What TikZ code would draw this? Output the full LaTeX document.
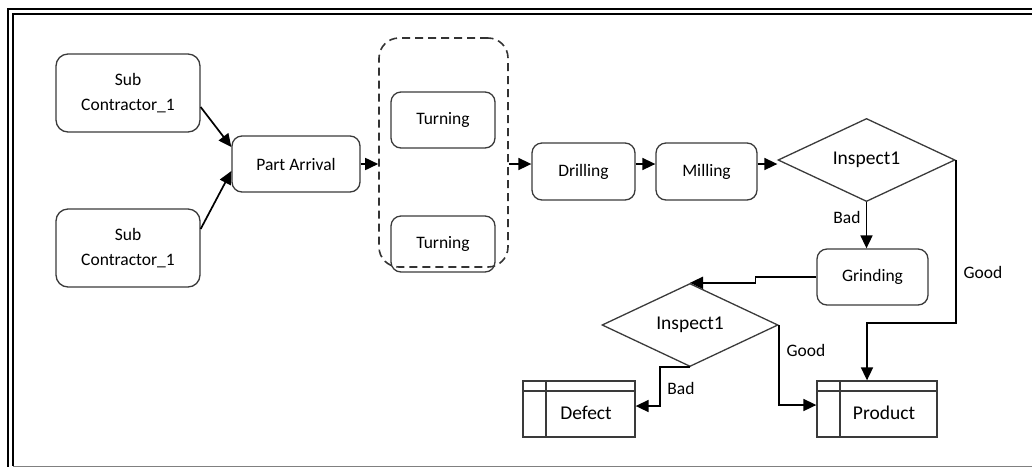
\documentclass[tikz,border=0pt]{standalone}
\usepackage{fontspec}
\setmainfont{Carlito}
\usetikzlibrary{shapes.geometric,arrows.meta}
\definecolor{edge}{HTML}{3A3A3A}
\begin{document}
\begin{tikzpicture}[x=1pt, y=-1pt,
  every node/.style={font=\fontsize{17.5}{25}\selectfont},
  proc/.style={draw=edge, line width=1.3pt, rounded corners=10pt, inner sep=0pt, align=center, minimum height=56pt},
  check/.style={diamond, draw=edge, line width=1.3pt, inner sep=0pt, minimum width=177pt, minimum height=76pt, font=\fontsize{19.5}{22}\selectfont},
  store/.style={draw=edge, line width=1.3pt, inner sep=0pt, minimum height=56pt, text height=24pt, text depth=4pt, font=\fontsize{19.5}{22}\selectfont,
    path picture={\draw[edge, line width=1.3pt]
      ([yshift=-10pt]path picture bounding box.north west) -- ([yshift=-10pt]path picture bounding box.north east)
      ([xshift=23pt]path picture bounding box.north west) -- ([xshift=23pt]path picture bounding box.south west);}},
  group/.style={draw=black!80, line width=1.6pt, dash pattern=on 8pt off 5pt, rounded corners=20pt, inner sep=0pt},
  arr/.style={-{Triangle[length=13pt,width=12pt]}, line width=1.7pt}]
\useasboundingbox (0,0) rectangle (1032,467);
% frame
\draw[line width=1.8pt] (1032,9) -- (8,9) -- (8,467);
\draw[line width=1.8pt] (1032,14) -- (13,14) -- (13,466);
\draw[gray, line width=1pt] (13,466) -- (1032,466);
% sources
\node[proc, minimum width=144pt, minimum height=78pt, rounded corners=12pt] (subA) at (128,93) {Sub\\Contractor\_1};
\node[proc, minimum width=144pt, minimum height=78pt, rounded corners=12pt] (subB) at (128,248) {Sub\\Contractor\_1};
\node[proc, minimum width=128pt] (pa) at (296,164) {Part Arrival};
% parallel turning
\node[group, minimum width=129pt, minimum height=229pt] (grp) at (443.5,152.5) {};
\node[proc, minimum width=104pt] (turnA) at (443,120) {Turning};
\node[proc, minimum width=104pt] (turnB) at (443,244) {Turning};
% machining line
\node[proc, minimum width=103pt, minimum height=57pt] (drill) at (583.5,171.5) {Drilling};
\node[proc, minimum width=101pt, minimum height=57pt] (mill) at (706.5,171.5) {Milling};
\node[check] (insA) at (866.5,160) {Inspect1};
\node[proc, minimum width=111pt] (grind) at (872.5,277) {Grinding};
\node[check, minimum width=176pt] (insB) at (690,325) {Inspect1};
\node[store, minimum width=112pt] (def) at (579,409) {\hspace*{14pt}Defect};
\node[store, minimum width=120pt] (prod) at (877,409) {\hspace*{14pt}Product};
% flow
\draw[arr] ([yshift=-14pt]subA.east) -- ([yshift=17pt]pa.west);
\draw[arr] ([yshift=19pt]subB.east) -- ([yshift=-7pt]pa.west);
\draw[arr] (pa.east) -- (pa.east -| grp.west);
\draw[arr] (grp.east |- pa.east) -- (pa.east -| drill.west);
\draw[arr] (drill.east |- pa.east) -- (pa.east -| mill.west);
\draw[arr] (mill.east |- pa.east) -- (pa.east -| insA.west);
\draw[arr] (insA.south) -- (insA.south |- grind.north);
\draw[arr] (insA.east) -- ++(0,163) -| ([xshift=-10pt]prod.north);
\draw[arr] (grind.west) -- ++(-61,0) |- (insB.north);
\draw[arr] (insB.east) |- ([yshift=4pt]prod.west);
\draw[arr] (insB.south) -- ++(-30,0) |- ([yshift=3pt]def.east);
% labels
\node (badA) at (847,217) {Bad};
\node (goodA) at (983,272) {Good};
\node (goodB) at (806,350) {Good};
\node (badB) at (681,388) {Bad};
\end{tikzpicture}
\end{document}
